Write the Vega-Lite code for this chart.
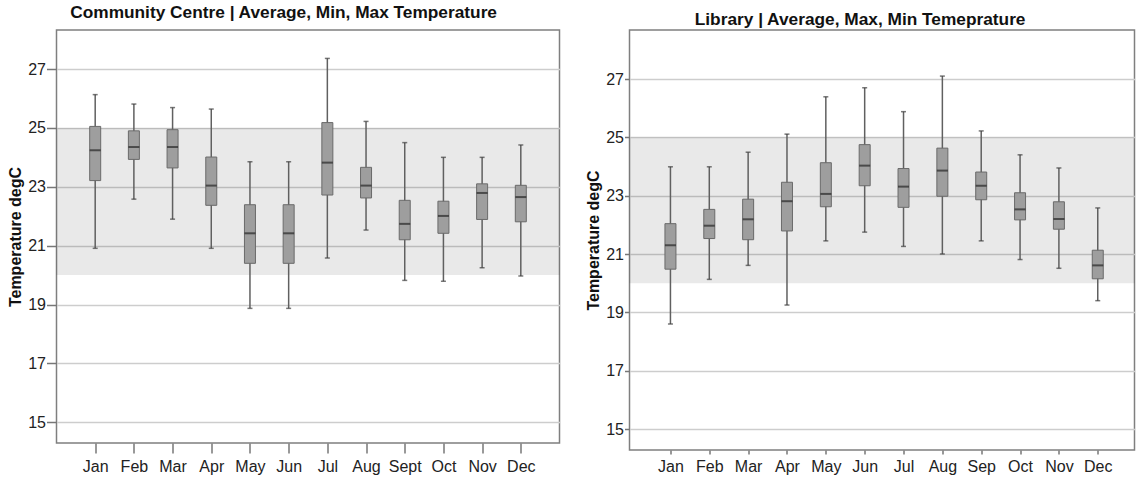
{
  "$schema": "https://vega.github.io/schema/vega-lite/v6.json",
  "background": "white",
  "padding": {"left": 6.5, "top": 3, "right": 0, "bottom": 0},
  "bounds": "flush",
  "spacing": 70,
  "config": {
    "font": "Liberation Sans",
    "view": {"stroke": "#7f7f7f", "strokeWidth": 1.5}
  },
  "datasets": {
    "cc": [
      {"month": "Jan", "min": 20.91, "q1": 23.21, "med": 24.24, "q3": 25.05, "max": 26.13},
      {"month": "Feb", "min": 22.58, "q1": 23.93, "med": 24.35, "q3": 24.90, "max": 25.81},
      {"month": "Mar", "min": 21.90, "q1": 23.64, "med": 24.35, "q3": 24.94, "max": 25.69},
      {"month": "Apr", "min": 20.91, "q1": 22.37, "med": 23.04, "q3": 24.01, "max": 25.64},
      {"month": "May", "min": 18.87, "q1": 20.40, "med": 21.42, "q3": 22.39, "max": 23.85},
      {"month": "Jun", "min": 18.87, "q1": 20.40, "med": 21.42, "q3": 22.39, "max": 23.85},
      {"month": "Jul", "min": 20.58, "q1": 22.72, "med": 23.82, "q3": 25.18, "max": 27.36},
      {"month": "Aug", "min": 21.53, "q1": 22.62, "med": 23.04, "q3": 23.66, "max": 25.22},
      {"month": "Sept", "min": 19.82, "q1": 21.20, "med": 21.74, "q3": 22.54, "max": 24.50},
      {"month": "Oct", "min": 19.79, "q1": 21.42, "med": 22.01, "q3": 22.51, "max": 24.00},
      {"month": "Nov", "min": 20.25, "q1": 21.89, "med": 22.79, "q3": 23.10, "max": 24.00},
      {"month": "Dec", "min": 19.97, "q1": 21.81, "med": 22.65, "q3": 23.05, "max": 24.42}
    ],
    "lib": [
      {"month": "Jan", "min": 18.60, "q1": 20.48, "med": 21.30, "q3": 22.04, "max": 23.99},
      {"month": "Feb", "min": 20.13, "q1": 21.53, "med": 21.97, "q3": 22.53, "max": 23.99},
      {"month": "Mar", "min": 20.61, "q1": 21.49, "med": 22.19, "q3": 22.88, "max": 24.49},
      {"month": "Apr", "min": 19.25, "q1": 21.79, "med": 22.81, "q3": 23.46, "max": 25.11},
      {"month": "May", "min": 21.45, "q1": 22.62, "med": 23.06, "q3": 24.13, "max": 26.39},
      {"month": "Jun", "min": 21.75, "q1": 23.34, "med": 24.03, "q3": 24.75, "max": 26.70},
      {"month": "Jul", "min": 21.26, "q1": 22.60, "med": 23.31, "q3": 23.93, "max": 25.88},
      {"month": "Aug", "min": 21.00, "q1": 22.98, "med": 23.86, "q3": 24.63, "max": 27.10},
      {"month": "Sep", "min": 21.45, "q1": 22.86, "med": 23.34, "q3": 23.81, "max": 25.22},
      {"month": "Oct", "min": 20.81, "q1": 22.17, "med": 22.53, "q3": 23.10, "max": 24.40},
      {"month": "Nov", "min": 20.51, "q1": 21.85, "med": 22.20, "q3": 22.79, "max": 23.95},
      {"month": "Dec", "min": 19.40, "q1": 20.15, "med": 20.61, "q3": 21.13, "max": 22.58}
    ],
    "band": [{"lo": 20, "hi": 25}]
  },
  "hconcat": [
    {
      "width": 503,
      "height": 413,
      "title": {"text": "Community Centre | Average, Min, Max Temperature", "fontSize": 17.3, "fontWeight": "bold", "color": "#111111", "offset": 8.5, "anchor": "middle", "frame": "bounds"},
      "layer": [
        {
          "data": {"name": "band"},
          "mark": {"type": "rect", "color": "#000000", "opacity": 0.085},
          "encoding": {
            "y": {"field": "lo", "type": "quantitative",
              "scale": {"domain": [14.297, 28.325], "nice": false, "zero": false},
              "axis": {"title": "Temperature degC", "titleFontSize": 16, "titleFontWeight": "bold", "titleColor": "#111111", "titlePadding": 4,
                "values": [15, 17, 19, 21, 23, 25, 27], "labelFontSize": 16, "labelColor": "#222222", "labelPadding": 1,
                "tickSize": 10, "tickColor": "#777777", "tickWidth": 1.5, "domain": false,
                "grid": true, "gridColor": "#cdcdcd", "gridWidth": 1.5}},
            "y2": {"field": "hi"}
          }
        },
        {
          "data": {"name": "cc"},
          "layer": [
            {"mark": {"type": "rule", "color": "#606060", "strokeWidth": 1.5},
             "encoding": {"y": {"field": "min", "type": "quantitative"}, "y2": {"field": "max"}}},
            {"mark": {"type": "tick", "color": "#404040", "size": 5, "thickness": 1.5},
             "encoding": {"y": {"field": "max", "type": "quantitative"}}},
            {"mark": {"type": "tick", "color": "#404040", "size": 5, "thickness": 1.5},
             "encoding": {"y": {"field": "min", "type": "quantitative"}}},
            {"mark": {"type": "bar", "size": 11, "fill": "#9e9e9e", "stroke": "#6a6a6a", "strokeWidth": 1},
             "encoding": {"y": {"field": "q1", "type": "quantitative"}, "y2": {"field": "q3"}}},
            {"mark": {"type": "tick", "color": "#262626", "size": 11, "thickness": 2},
             "encoding": {"y": {"field": "med", "type": "quantitative"}}}
          ],
          "encoding": {
            "x": {"field": "month", "type": "ordinal", "sort": null,
              "scale": {"type": "point", "padding": 1.181},
              "axis": {"title": null, "labelAngle": 0, "labelFontSize": 16, "labelColor": "#222222", "labelPadding": 5,
                "tickSize": 10, "tickColor": "#777777", "tickWidth": 1.5, "domain": false, "grid": false}}
          }
        }
      ]
    },
    {
      "width": 505,
      "height": 420,
      "title": {"text": "Library | Average, Max, Min Temeprature", "fontSize": 17.3, "fontWeight": "bold", "color": "#111111", "offset": 1.5, "anchor": "middle", "frame": "bounds"},
      "layer": [
        {
          "data": {"name": "band"},
          "mark": {"type": "rect", "color": "#000000", "opacity": 0.085},
          "encoding": {
            "y": {"field": "lo", "type": "quantitative",
              "scale": {"domain": [14.28, 28.68], "nice": false, "zero": false},
              "axis": {"title": "Temperature degC", "titleFontSize": 16, "titleFontWeight": "bold", "titleColor": "#111111", "titlePadding": 4,
                "values": [15, 17, 19, 21, 23, 25, 27], "labelFontSize": 16, "labelColor": "#222222", "labelPadding": 1,
                "tickSize": 5, "tickColor": "#777777", "tickWidth": 1.5, "domain": false,
                "grid": true, "gridColor": "#cdcdcd", "gridWidth": 1.5}},
            "y2": {"field": "hi"}
          }
        },
        {
          "data": {"name": "lib"},
          "layer": [
            {"mark": {"type": "rule", "color": "#606060", "strokeWidth": 1.5},
             "encoding": {"y": {"field": "min", "type": "quantitative"}, "y2": {"field": "max"}}},
            {"mark": {"type": "tick", "color": "#404040", "size": 5, "thickness": 1.5},
             "encoding": {"y": {"field": "max", "type": "quantitative"}}},
            {"mark": {"type": "tick", "color": "#404040", "size": 5, "thickness": 1.5},
             "encoding": {"y": {"field": "min", "type": "quantitative"}}},
            {"mark": {"type": "bar", "size": 11, "fill": "#9e9e9e", "stroke": "#6a6a6a", "strokeWidth": 1},
             "encoding": {"y": {"field": "q1", "type": "quantitative"}, "y2": {"field": "q3"}}},
            {"mark": {"type": "tick", "color": "#262626", "size": 11, "thickness": 2},
             "encoding": {"y": {"field": "med", "type": "quantitative"}}}
          ],
          "encoding": {
            "x": {"field": "month", "type": "ordinal", "sort": null,
              "scale": {"type": "point", "padding": 1.104, "align": 0.527},
              "axis": {"title": null, "labelAngle": 0, "labelFontSize": 16, "labelColor": "#222222", "labelPadding": 4,
                "tickSize": 4, "tickColor": "#777777", "tickWidth": 1.5, "domain": false, "grid": false}}
          }
        }
      ]
    }
  ]
}
